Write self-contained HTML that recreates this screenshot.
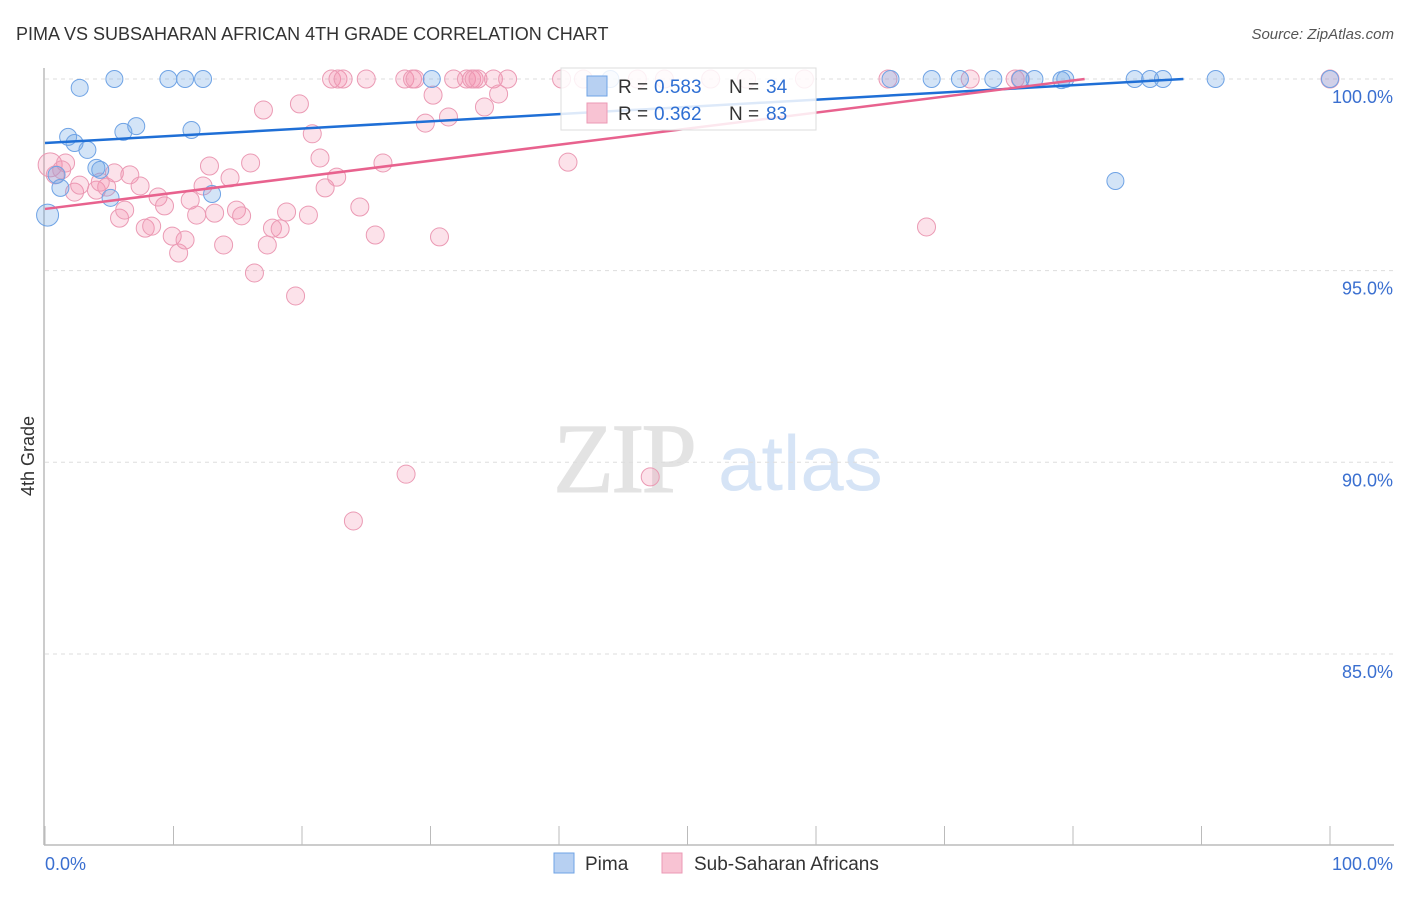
<!DOCTYPE html>
<html><head><meta charset="utf-8"><style>
body{margin:0;background:#fff;font-family:"Liberation Sans",sans-serif;}
svg text{font-family:"Liberation Sans",sans-serif;}
</style></head><body>
<svg id="chart" width="1406" height="892" xmlns="http://www.w3.org/2000/svg">
<text x="16" y="40" font-size="18" fill="#333">PIMA VS SUBSAHARAN AFRICAN 4TH GRADE CORRELATION CHART</text>
<text x="1394" y="39" font-size="15" fill="#555" font-style="italic" text-anchor="end">Source: ZipAtlas.com</text>
<text x="34" y="456" font-size="18" fill="#333" text-anchor="middle" transform="rotate(-90 34 456)">4th Grade</text>
<g>
<text x="553" y="492" font-size="100" fill="#e3e3e3" style="font-family:'Liberation Serif',serif" letter-spacing="-3" stroke="#e3e3e3" stroke-width="1">ZIP</text>
<text x="718" y="490" font-size="78" fill="#d6e4f6">atlas</text>
</g>
<g id="grid"></g>
<g id="axes"></g>
<g id="points"></g>
<g id="trends"></g>
<g>
<rect x="561" y="68" width="255" height="62" fill="#fff" fill-opacity="0.85" stroke="#ddd"/>
<rect x="587" y="76" width="20" height="20" fill="#b7d0f2" stroke="#6fa3e5"/>
<text x="618" y="93" font-size="19" fill="#333">R =</text>
<text x="654" y="93" font-size="19" fill="#2f6fd3">0.583</text>
<text x="729" y="93" font-size="19" fill="#333">N =</text>
<text x="766" y="93" font-size="19" fill="#2f6fd3">34</text>
<rect x="587" y="103" width="20" height="20" fill="#f8c3d3" stroke="#eb9ab4"/>
<text x="618" y="120" font-size="19" fill="#333">R =</text>
<text x="654" y="120" font-size="19" fill="#2f6fd3">0.362</text>
<text x="729" y="120" font-size="19" fill="#333">N =</text>
<text x="766" y="120" font-size="19" fill="#2f6fd3">83</text>
</g>
<g>
<rect x="554" y="853" width="20" height="20" fill="#b7d0f2" stroke="#6fa3e5"/>
<text x="585" y="870" font-size="19" fill="#333">Pima</text>
<rect x="662" y="853" width="20" height="20" fill="#f8c3d3" stroke="#eb9ab4"/>
<text x="694" y="870" font-size="19" fill="#333">Sub-Saharan Africans</text>
</g>
</svg>
<script>
const pimaX=[0.2,2.7,5.4,9.6,10.9,12.3,1.8,2.3,3.3,6.1,7.1,11.4,4.0,4.3,0.9,1.2,5.1,13.0,30.1,65.8,69.0,71.2,73.8,75.9,77.0,79.1,79.4,84.8,86.0,87.0,91.1,83.3,100,44.0];
const pimaY=[96.45,99.77,100,100,100,100,98.49,98.33,98.15,98.62,98.77,98.67,97.68,97.63,97.5,97.16,96.9,97.0,100,100,100,100,100,100,100,99.97,100,100,100,100,100,97.34,100,100];
const subX=[0.4,1.6,0.8,1.3,2.3,2.7,4.0,4.8,4.3,5.4,6.6,5.8,6.2,7.4,7.8,8.3,8.8,9.3,9.9,10.4,10.9,11.3,11.8,12.3,12.8,13.2,13.9,14.4,14.9,15.3,16.0,16.3,17.0,17.3,17.7,18.3,18.8,19.5,19.8,20.5,20.8,21.4,21.8,22.3,22.8,22.7,23.2,24.0,24.5,25.0,25.7,26.3,28.0,28.1,28.6,28.8,29.6,30.2,30.7,31.4,31.8,32.8,33.2,33.4,33.7,34.2,34.9,35.3,36.0,40.2,40.7,41.9,46.1,47.1,48.2,51.8,54.6,59.1,65.6,68.6,72.0,75.5,75.9,100];
const subY=[97.76,97.81,97.5,97.63,97.05,97.23,97.1,97.18,97.31,97.55,97.5,96.37,96.58,97.21,96.11,96.16,96.92,96.69,95.9,95.46,95.8,96.84,96.45,97.21,97.73,96.5,95.67,97.42,96.58,96.43,97.81,94.94,99.19,95.67,96.11,96.09,96.53,94.34,99.35,96.45,98.57,97.94,97.16,100,100,97.44,100,88.47,96.66,100,95.93,97.81,100,89.69,100,100,98.85,99.58,95.88,99.01,100,100,100,100,100,99.27,100,99.61,100,100,97.83,100,100,89.62,100,100,100,100,100,96.14,100,100,100,100];
const trendPima=[98.33,0.01885];
const trendSub=[96.61,0.0419];
const yTicks=[100,95,90,85];
const yTickLabels=["100.0%","95.0%","90.0%","85.0%"];
const xTicks=[0,10,20,30,40,50,60,70,80,90,100];

const NS="http://www.w3.org/2000/svg";
const sx=v=>45+v*12.85;
const sy=v=>79+(100-v)*38.33;
function mk(tag,attrs,parent){const e=document.createElementNS(NS,tag);for(const k in attrs)e.setAttribute(k,attrs[k]);parent.appendChild(e);return e;}
const grid=document.getElementById('grid'),axes=document.getElementById('axes'),pts=document.getElementById('points'),tr=document.getElementById('trends');
yTicks.forEach((t,i)=>{
 const l=mk('line',{x1:45,x2:1394,y1:sy(t),y2:sy(t),stroke:'#ddd','stroke-dasharray':'4 4'},grid);
 
 
 const tx=mk('text',{x:1393,y:sy(t)+24,'font-size':18,fill:'#3a6fd0','text-anchor':'end'},axes);
 tx.textContent=yTickLabels[i];
 
 
});
const ya=mk('line',{x1:44,x2:44,y1:68,y2:845,stroke:'#bbb','stroke-width':1.5},axes);


const xa=mk('line',{x1:44,x2:1394,y1:845,y2:845,stroke:'#bbb','stroke-width':1.5},axes);


xTicks.forEach(t=>{
 const l=mk('line',{x1:sx(t),x2:sx(t),y1:826,y2:845,stroke:'#bbb'},axes);
 
 
});
const x0=mk('text',{x:45,y:870,'font-size':18,fill:'#3a6fd0'},axes);x0.textContent='0.0%';


const x1=mk('text',{x:1393,y:870,'font-size':18,fill:'#3a6fd0','text-anchor':'end'},axes);x1.textContent='100.0%';


subX.forEach((x,i)=>{
 const c=mk('circle',{cx:sx(x),cy:sy(subY[i]),r:i===0?12:9,fill:'rgba(242,140,170,0.25)',stroke:'#eb9ab4','stroke-width':1},pts);
 
 
});
pimaX.forEach((x,i)=>{
 const c=mk('circle',{cx:sx(x),cy:sy(pimaY[i]),r:i===0?11:8.5,fill:'rgba(110,165,230,0.3)',stroke:'#6fa3e5','stroke-width':1},pts);
 
 
});
function trend(p,col,name){
 const xe=(100-p[0])/p[1];
 const l=mk('line',{x1:sx(0),y1:sy(p[0]),x2:sx(xe),y2:sy(100),stroke:col,'stroke-width':2.5},tr);
 
 
}
trend(trendPima,'#1f6fd6','pima-trend-line');
trend(trendSub,'#e8628e','subsaharan-trend-line');
</script>
</body></html>
